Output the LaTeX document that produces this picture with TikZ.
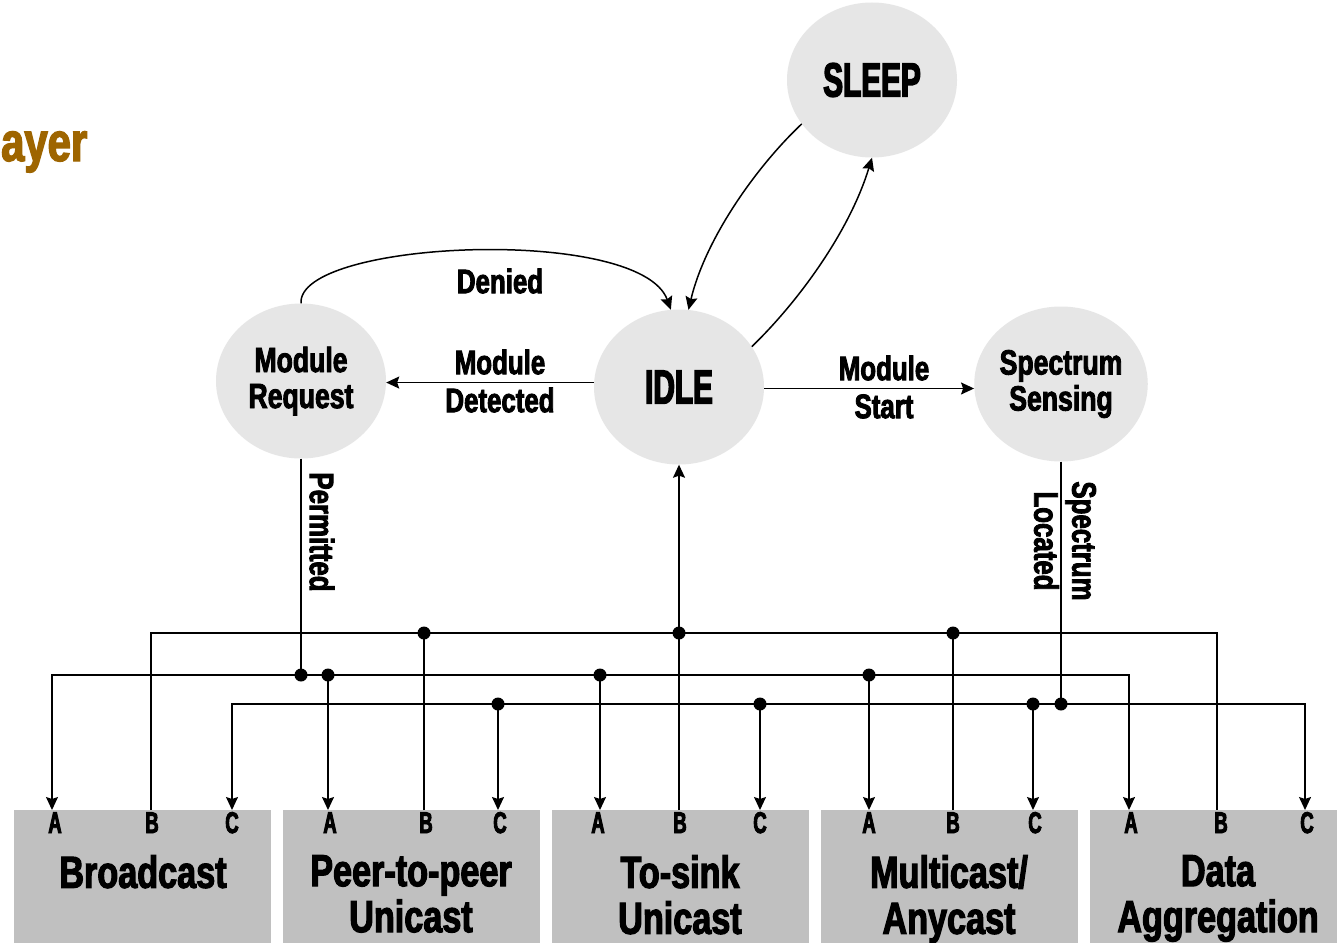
\documentclass[tikz,border=0pt]{standalone}
\usepackage{fontspec}
\usetikzlibrary{shapes.geometric,arrows.meta,calc}
\newfontfamily\imp{Liberation Sans}[FakeStretch=0.76,FakeBold=2.5]
\newfontfamily\impc{Liberation Sans}[FakeStretch=0.62,FakeBold=3]
\definecolor{nodegray}{HTML}{E6E6E6}
\definecolor{boxgray}{HTML}{C0C0C0}
\definecolor{ayercol}{HTML}{9E6500}
\tikzset{
  st/.style={ellipse, fill=nodegray, minimum width=170pt, minimum height=155pt, inner sep=0pt, align=center,
    font=\imp\bfseries\fontsize{35}{36}\selectfont},
  lbl/.style={align=center, inner sep=0pt, font=\imp\bfseries\fontsize{34}{38}\selectfont},
  boxn/.style={fill=boxgray, minimum width=257pt, minimum height=150pt, anchor=north west, inner sep=0pt},
  ttl/.style={align=center, inner sep=0pt, anchor=north, font=\imp\bfseries\fontsize{45}{46}\selectfont},
  port/.style={inner sep=0pt, anchor=base, font=\impc\bfseries\fontsize{30}{30}\selectfont},
  wire/.style={line width=1.5pt, draw=black},
  arr/.style={wire, -{Stealth[length=13pt,width=12pt,inset=2pt]}},
  arrboth/.style={wire, {Stealth[length=13pt,width=12pt,inset=2pt]}-{Stealth[length=13pt,width=12pt,inset=2pt]}},
  jdot/.style={circle, fill=black, inner sep=0pt, minimum size=13pt},
}
\begin{document}
\begin{tikzpicture}[x=1pt,y=-1pt]
\useasboundingbox (0,0) rectangle (1337,942);
\fill[white] (0,0) rectangle (1337,942);

% title fragment
\node[anchor=base west, inner sep=0pt, text=ayercol, font=\imp\bfseries\fontsize{55}{55}\selectfont] (ttlfrag) at (1,161) {ayer};

% states
\node[st, font=\impc\bfseries\fontsize{48}{48}\selectfont] (sleep) at (872,80) {SLEEP};
\node[st, font=\impc\bfseries\fontsize{48}{48}\selectfont] (idle) at (679,387) {IDLE};
\node[st] (req) at (301,381) {Module\\Request};
\node[st] (sense) at (1061,384) {Spectrum\\Sensing};

% boxes
\node[boxn] (bc) at (14,810) {};
\node[boxn] (pp) at (283,810) {};
\node[boxn] (ts) at (552,810) {};
\node[boxn] (mc) at (821,810) {};
\node[boxn] (da) at (1090,810) {};

\node[ttl] (tbc) at (143,855) {Broadcast};
\node[ttl] (tpp) at (411,855) {Peer-to-peer\\Unicast};
\node[ttl] (tts) at (680,855) {To-sink\\Unicast};
\node[ttl] (tmc) at (949,855) {Multicast/\\Anycast};
\node[ttl] (tda) at (1218,855) {Data\\Aggregation};

% ports
\coordinate (bcA) at (52,810);  \coordinate (bcB) at (151,810);  \coordinate (bcC) at (232,810);
\coordinate (ppA) at (328,810); \coordinate (ppB) at (424,810);  \coordinate (ppC) at (498,810);
\coordinate (tsA) at (600,810); \coordinate (tsB) at (679,810);  \coordinate (tsC) at (760,810);
\coordinate (mcA) at (869,810); \coordinate (mcB) at (953,810);  \coordinate (mcC) at (1033,810);
\coordinate (daA) at (1129,810);\coordinate (daB) at (1217,810); \coordinate (daC) at (1305,810);

\node[port] (lbcA) at (55,833) {A};   \node[port] (lbcB) at (152,833) {B};  \node[port] (lbcC) at (232,833) {C};
\node[port] (lppA) at (330,833) {A};  \node[port] (lppB) at (426,833) {B};  \node[port] (lppC) at (500,833) {C};
\node[port] (ltsA) at (598,833) {A};  \node[port] (ltsB) at (680,833) {B};  \node[port] (ltsC) at (760,833) {C};
\node[port] (lmcA) at (869,833) {A};  \node[port] (lmcB) at (953,833) {B};  \node[port] (lmcC) at (1035,833) {C};
\node[port] (ldaA) at (1131,833) {A}; \node[port] (ldaB) at (1221,833) {B}; \node[port] (ldaC) at (1307,833) {C};

% junction coordinates
\coordinate (Br) at (1217,633);
\coordinate (Ar) at (1129,675);
\coordinate (Cr) at (1305,704);
\coordinate (jB1) at (424,633); \coordinate (jB2) at (679,633); \coordinate (jB3) at (953,633);
\coordinate (jA0) at (301,675); \coordinate (jA1) at (328,675); \coordinate (jA2) at (600,675); \coordinate (jA3) at (869,675);
\coordinate (jC1) at (498,704); \coordinate (jC2) at (760,704); \coordinate (jC3) at (1033,704); \coordinate (jC4) at (1061,704);

% B bus
\draw[wire] (bcB) |- (Br) -- (daB);
\draw[wire] (ppB) -- (jB1);
\draw[wire] (mcB) -- (jB3);
\draw[arr] (tsB) -- (idle.south);

% A bus
\draw[arrboth] (bcA) |- (Ar) -- (daA);
\draw[wire] (req.south) -- (jA0);
\draw[arr] (jA1) -- (ppA);
\draw[arr] (jA2) -- (tsA);
\draw[arr] (jA3) -- (mcA);

% C bus
\draw[arrboth] (bcC) |- (Cr) -- (daC);
\draw[wire] (sense.south) -- (jC4);
\draw[arr] (jC1) -- (ppC);
\draw[arr] (jC2) -- (tsC);
\draw[arr] (jC3) -- (mcC);

% dots
\foreach \j in {jB1,jB2,jB3,jA0,jA1,jA2,jA3,jC1,jC2,jC3,jC4}
  \node[jdot] at (\j) {};

% state transitions
\draw[arr] (idle.177) -- (idle.177 -| req.east);
\draw[arr] (idle.-1) -- (idle.-1 -| sense.west);
\draw[arr] (req.north) .. controls (297,240) and (640,225) .. (idle.96);
\draw[arr] (sleep.212) .. controls (755,168) and (705,240) .. (idle.83);
\draw[arr] (idle.29) .. controls (800,300) and (850,230) .. (sleep.south);

% labels
\node[lbl] (lden) at (500,281) {Denied};
\node[lbl] (ldet) at (500,381) {Module\\Detected};
\node[lbl] (lsta) at (884,387) {Module\\Start};
\node[lbl, rotate=-90] (lper) at (322,532) {Permitted};
\node[lbl, rotate=-90] (lloc) at (1065,541) {Spectrum\\Located};
\end{tikzpicture}
\end{document}
